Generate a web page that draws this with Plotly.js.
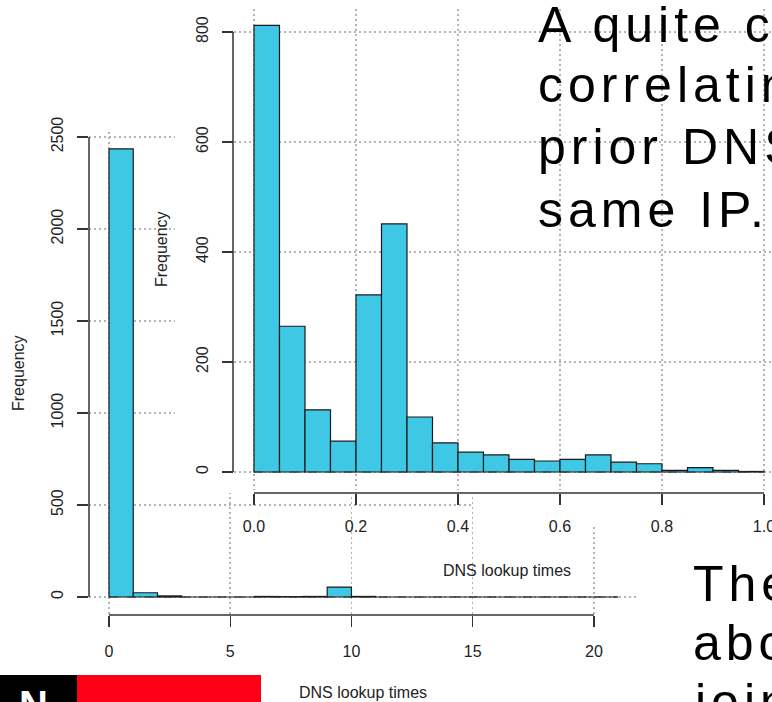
<!DOCTYPE html>
<html><head><meta charset="utf-8">
<script src="https://cdn.plot.ly/plotly-3.0.1.min.js"></script>
<style>html,body{margin:0;padding:0;background:#fff;overflow:hidden}#chart{width:772px;height:702px}</style>
</head><body><div id="chart"></div>
<script>
// ---- Data: full histogram of DNS lookup times (1-second bins) ----
const allBreaks = [0,1,2,3,4,5,6,7,8,9,10,11,12,13,14,15,16,17,18,19,20,21];
const allCounts = [2435,23,6,0,0,0,3,2,3,54,3,0,0,0,0,0,0,0,0,0,0];
const allXTicks = [0,5,10,15,20];
const allYTicks = [0,500,1000,1500,2000,2500];

// ---- Data: zoomed histogram, lookups under 1 s (0.05 s bins) ----
const zoomBreaks = [0,0.05,0.1,0.15,0.2,0.25,0.3,0.35,0.4,0.45,0.5,0.55,0.6,0.65,0.7,0.75,0.8,0.85,0.9,0.95,1.0];
const zoomCounts = [812,265,113,56,322,451,100,53,36,31,23,20,23,31,18,15,3,8,3,1];
const zoomXTicks = [0,0.2,0.4,0.6,0.8,1.0];
const zoomXLabels = ["0.0","0.2","0.4","0.6","0.8","1.0"];
const zoomYTicks = [0,200,400,600,800];

const xTitle = "DNS lookup times";
const yTitle = "Frequency";
const slideTextTop = ["A quite c","correlatin","prior DNS","same IP."];
const slideTextBottom = ["The","abo","join"];

// ---- helpers ----
const W = 772, H = 702;
const px = v => v / W;
const py = v => 1 - v / H;
const mids = b => b.slice(0, -1).map((v, i) => (v + b[i + 1]) / 2);
const widths = b => b.slice(0, -1).map((v, i) => b[i + 1] - v);
const FONT = "Liberation Sans, Arial, sans-serif";
const BAR = "#3ec8e6";

const traces = [
  {type:'bar', x: mids(allBreaks), y: allCounts, width: widths(allBreaks),
   xaxis:'x', yaxis:'y', marker:{color:BAR, line:{color:'#1a1a1a', width:1.2}}, hoverinfo:'x+y'},
  {type:'scatter', x:[-10], y:[-10], xaxis:'x2', yaxis:'y2', mode:'markers', marker:{opacity:0}, hoverinfo:'skip'},
  {type:'scatter', x:[-10], y:[-10], xaxis:'x3', yaxis:'y3', mode:'markers', marker:{opacity:0}, hoverinfo:'skip'},
  {type:'bar', x: mids(zoomBreaks), y: zoomCounts, width: widths(zoomBreaks),
   xaxis:'x4', yaxis:'y4', marker:{color:BAR, line:{color:'#1a1a1a', width:1.2}}, hoverinfo:'x+y'}
];

const tickCommon = {
  ticks:'outside', ticklen:11, tickwidth:1.3, tickcolor:'#333',
  showline:false, zeroline:false, showgrid:true,
  gridcolor:'#b4b4b4', griddash:'1.5px,3.5px', gridwidth:1.5,
  tickfont:{family:FONT, size:16, color:'#222'}, fixedrange:true,
  ticklabeloverflow:'allow'
};
const hidden = {visible:false, range:[0,1], fixedrange:true};

const layout = {
  width: W, height: H, margin:{l:0, r:0, t:0, b:0},
  paper_bgcolor:'#fff', plot_bgcolor:'#fff', showlegend:false,
  xaxis: Object.assign({}, tickCommon, {domain:[px(89), px(639)], range:[-0.825, 21.86], anchor:'y',
    tickmode:'array', tickvals: allXTicks, ticktext: allXTicks.map(String), ticklabelstandoff:11}),
  yaxis: Object.assign({}, tickCommon, {domain:[py(615), py(132)], range:[-97.8, 2527], anchor:'x',
    tickmode:'array', tickvals: allYTicks, ticktext: allYTicks.map(String), tickangle:-90, ticklabelstandoff:8}),
  xaxis2: Object.assign({}, hidden, {domain:[px(175), 1], anchor:'y2'}),
  yaxis2: Object.assign({}, hidden, {domain:[py(493), 1], anchor:'x2'}),
  xaxis3: Object.assign({}, hidden, {domain:[px(474), 1], anchor:'y3'}),
  yaxis3: Object.assign({}, hidden, {domain:[py(527), 1], anchor:'x3'}),
  xaxis4: Object.assign({}, tickCommon, {domain:[px(234), 1], range:[-0.0392, 1.0157], anchor:'free', position: py(493),
    tickmode:'array', tickvals: zoomXTicks, ticktext: zoomXLabels, ticklabelstandoff:8}),
  yaxis4: Object.assign({}, tickCommon, {domain:[py(490), py(9)], range:[-32.7, 841.8], anchor:'x4',
    tickmode:'array', tickvals: zoomYTicks, ticktext: zoomYTicks.map(String), tickangle:-90, ticklabelstandoff:8}),
  shapes: [
    // axis lines spanning tick range (R style)
    {type:'line', xref:'paper', x0:px(89), x1:px(89), yref:'y', y0:allYTicks[0], y1:allYTicks[allYTicks.length-1], line:{color:'#333', width:1.5}},
    {type:'line', xref:'x', x0:allXTicks[0], x1:allXTicks[allXTicks.length-1], yref:'paper', y0:py(615), y1:py(615), line:{color:'#333', width:1.5}},
    {type:'line', xref:'paper', x0:px(233), x1:px(233), yref:'y4', y0:zoomYTicks[0], y1:zoomYTicks[zoomYTicks.length-1], line:{color:'#333', width:1.5}},
    {type:'line', xref:'x4', x0:zoomXTicks[0], x1:zoomXTicks[zoomXTicks.length-1], yref:'paper', y0:py(493), y1:py(493), line:{color:'#333', width:1.5}},
    // histogram baselines
    {type:'line', xref:'x', x0:allBreaks[0], x1:allBreaks[allBreaks.length-1], yref:'y', y0:0, y1:0, line:{color:'#333', width:1.2, dash:'dash'}},
    {type:'line', xref:'x4', x0:zoomBreaks[0], x1:zoomBreaks[zoomBreaks.length-1], yref:'y4', y0:0, y1:0, line:{color:'#333', width:1.2, dash:'dash'}},
    // slide footer bar
    {type:'rect', xref:'paper', yref:'paper', x0:0, x1:px(77), y0:py(702), y1:py(675), fillcolor:'#000', line:{width:0}},
    {type:'rect', xref:'paper', yref:'paper', x0:px(77), x1:px(261), y0:py(702), y1:py(675), fillcolor:'#ff0019', line:{width:0}}
  ],
  annotations: []
};

const ann = (text, x, y, opts) => Object.assign({text, xref:'paper', yref:'paper', x:px(x), y:py(y),
  showarrow:false, xanchor:'center', yanchor:'middle', font:{family:FONT, size:16, color:'#222'}}, opts || {});

layout.annotations.push(ann(yTitle, 18, 373, {textangle:-90}));
layout.annotations.push(ann(yTitle, 161, 249, {textangle:-90}));
layout.annotations.push(ann(xTitle, 363, 692));
layout.annotations.push(ann(xTitle, 507, 570));

const slideFont = {family:FONT, size:50, color:'#000'};
const spaced = t => '<span style="letter-spacing:5px">' + t + '</span>';
const topCenters = [25, 85, 147, 210];
slideTextTop.forEach((t, i) => layout.annotations.push(ann(spaced(t), 536, topCenters[i], {xanchor:'left', font:slideFont})));
const botCenters = [584, 643, 702];
slideTextBottom.forEach((t, i) => layout.annotations.push(ann(spaced(t), 691, botCenters[i], {xanchor:'left', font:slideFont})));
layout.annotations.push(ann('<b>N</b>', 33, 705, {font:{family:FONT, size:40, color:'#fff'}}));

Plotly.newPlot('chart', traces, layout, {staticPlot:true, displayModeBar:false});
</script>
</body></html>
